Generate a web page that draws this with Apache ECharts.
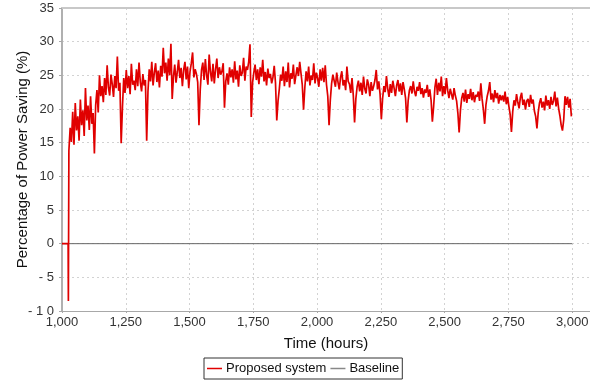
<!DOCTYPE html>
<html>
<head>
<meta charset="utf-8">
<script src="https://cdn.jsdelivr.net/npm/echarts@6/dist/echarts.min.js"></script>
<style>
  html, body { margin: 0; padding: 0; background: #fff; }
  #chart { width: 590px; height: 382px; }
</style>
</head>
<body>
<div id="chart"></div>
<script>
var FONT = "'Liberation Sans', Arial, sans-serif";
var RED = "#e00000";
var GREY = "#666666";

var X_TICKS = [1000, 1250, 1500, 1750, 2000, 2250, 2500, 2750, 3000];
var Y_TICKS = [-10, -5, 0, 5, 10, 15, 20, 25, 30, 35];
var Y_LABELS = ["- 1 0", "- 5", "0", "5", "10", "15", "20", "25", "30", "35"];

// start of the run: flat at 0, then the single dip
var HEAD_HOURS = [1000, 1024, 1025];
var HEAD_VALUES = [0, 0, -8.5];

// sampled every 5 hours from 1027 h
var SAVING_START = 1027;
var SAVING_STEP = 5;
var SAVING = [
  13.8, 17.2, 15.1, 19.6, 14.7, 20.9, 16.8, 18.9, 15.3, 21.4, 17.6, 19.8, 16.0, 23.1, 18.3, 20.5, 16.9, 21.9, 17.8, 19.4,
  13.4, 20.6, 22.8, 19.5, 25.0, 21.9, 23.4, 21.0, 24.6, 22.1, 26.5, 23.2, 22.0, 25.1, 23.7, 21.8, 24.9, 23.1, 27.8, 22.7,
  23.9, 14.9, 20.3, 24.6, 22.4, 25.8, 23.1, 24.9, 22.2, 26.7, 23.6, 24.2, 22.8, 25.9, 23.4, 26.9, 24.0, 22.6, 25.2, 23.5,
  24.3, 15.3, 22.6, 25.9, 24.1, 27.0, 23.5, 25.4, 26.8, 24.0, 25.7, 23.2, 26.4, 24.8, 29.1, 25.3, 26.9, 24.2, 27.5, 25.0,
  29.7, 21.5, 24.8, 26.6, 23.9, 25.5, 27.3, 24.6, 26.1, 23.4, 25.8, 27.0, 24.4, 26.3, 23.1, 25.6, 26.8, 28.4, 24.7, 25.9,
  25.2, 24.0, 17.6, 22.9, 25.8, 26.9, 24.3, 27.4, 25.0, 23.6, 28.1, 25.5, 24.1, 26.7, 23.8, 25.9, 27.5, 24.6, 26.2, 25.1,
  25.6, 26.8, 20.2, 24.1, 25.3, 23.6, 26.2, 24.7, 25.9, 23.9, 27.1, 24.4, 25.7, 23.3, 26.5, 24.9, 25.4, 27.6, 24.2, 26.3,
  25.8, 27.0, 29.6, 18.8, 23.9, 25.4, 26.6, 24.3, 25.9, 23.7, 26.2, 24.8, 27.3, 24.1, 25.5, 23.5, 26.0, 24.6, 25.2, 23.8,
  24.7, 26.4, 23.9, 18.3, 21.2, 23.0, 25.1, 24.2, 26.3, 23.4, 25.6, 24.0, 26.9, 23.2, 25.3, 24.5, 26.6, 23.7, 25.0, 26.2,
  24.9, 27.0, 25.3, 23.6, 19.9, 23.2, 25.6, 24.1, 26.3, 23.5, 25.0, 24.3, 26.8, 23.8, 25.4, 24.6, 23.3, 25.9, 24.2, 26.1,
  24.0, 26.5, 23.6, 21.9, 17.6, 21.4, 23.8, 25.1, 24.2, 23.3, 25.4, 24.0, 22.9, 24.7, 25.6, 23.5, 24.3, 22.8, 26.3, 24.1,
  23.7, 22.4, 24.6, 22.0, 18.0, 21.5, 23.3, 24.2, 22.6, 23.9, 22.1, 24.8, 23.0, 22.3, 24.4, 23.6, 21.9, 24.0, 22.7, 23.4,
  24.3, 25.8, 22.9, 24.1, 22.2, 18.5, 21.6, 23.4, 22.5, 24.9, 23.0, 21.8, 23.7, 22.4, 24.2, 23.1, 21.9, 23.5, 24.3, 22.6,
  23.8, 22.1, 24.0, 22.9, 21.6, 18.0, 21.2, 22.8, 23.4, 22.3, 24.1, 22.6, 21.9, 23.3, 22.7, 24.0, 22.2, 23.1, 21.7, 22.9,
  22.4, 23.6, 21.8, 22.9, 21.3, 18.1, 20.4, 23.2, 24.5, 22.1, 23.9, 22.6, 24.8, 21.9, 23.4, 22.2, 24.6, 22.8, 21.6, 23.0,
  22.9, 21.4, 23.1, 22.0, 21.2, 19.4, 16.5, 19.8, 21.6, 22.4, 21.1, 22.9, 20.9, 22.2, 21.5, 23.0, 21.3, 22.5, 21.0, 22.1,
  21.8, 22.6, 21.2, 23.8, 21.5, 19.9, 17.8, 20.6, 21.9, 22.7, 24.0, 21.4, 22.3, 21.0, 22.8, 21.6, 22.4, 20.8, 22.1, 21.3,
  22.0, 21.1, 22.6, 20.7, 21.8, 20.4, 19.2, 16.6, 19.6, 21.3, 20.5, 22.2, 21.0, 20.1, 21.7, 22.4, 20.6, 21.4, 19.9, 21.2,
  21.5, 20.3, 22.1, 20.8, 21.4, 19.7, 18.9, 17.1, 19.5, 20.9, 21.6, 20.2, 21.1, 19.8, 22.0, 20.5, 21.3, 20.0, 21.8, 20.6,
  21.2, 22.6, 20.4, 21.7, 20.1, 19.0, 17.6, 16.8, 18.4, 21.9, 20.6, 21.8, 20.2, 21.5, 18.9
];

var BASE_HOURS = [1000, 3000];
var BASE_VALUES = [0, 0];

function fmtHour(v) {
  if (X_TICKS.indexOf(v) < 0) return "";
  return Number(v).toLocaleString("en-US");
}

function fmtY(v) {
  var i = Y_TICKS.indexOf(v);
  return i < 0 ? "" : Y_LABELS[i];
}

var proposed = HEAD_HOURS.map(function(h, i) { return [h, HEAD_VALUES[i]]; });
SAVING.forEach(function(v, i) { proposed.push([SAVING_START + i * SAVING_STEP, v]); });
var baseline = BASE_HOURS.map(function(h, i) { return [h, BASE_VALUES[i]]; });

var gridLine = { show: true, lineStyle: { color: "#d2d2d2", type: [2, 3], width: 1 } };
var tickText = { color: "#333", fontSize: 13, fontFamily: FONT };

var chart = echarts.init(document.getElementById("chart"));
chart.setOption({
  animation: false,
  grid: { left: 62, right: 0, top: 8, bottom: 71, outerBoundsMode: "none", containLabel: false },
  legend: {
    data: [
      { name: "Proposed system", icon: "rect", itemStyle: { color: RED } },
      { name: "Baseline", icon: "rect", itemStyle: { color: "#888" } }
    ],
    left: 204, top: 358, itemWidth: 15, itemHeight: 1.5, itemGap: 4,
    padding: [4, 3, 4, 3], borderColor: "#333", borderWidth: 1, borderRadius: 0,
    textStyle: { color: "#111", fontSize: 13, fontFamily: FONT, padding: [0, 0, 0, -1] }
  },
  xAxis: [{
    type: "value", min: 1000, max: 3070, interval: 250,
    name: "Time (hours)", nameLocation: "middle", nameGap: 25, nameMoveOverlap: false,
    nameTextStyle: { color: "#111", fontSize: 15, fontFamily: FONT },
    axisLine: { show: true, onZero: false, lineStyle: { color: "#a8a8a8", width: 1 } },
    axisTick: { show: true, length: 2, lineStyle: { color: "#a8a8a8" } },
    axisLabel: Object.assign({ formatter: fmtHour, margin: 5, showMaxLabel: false }, tickText),
    splitLine: gridLine
  }, {
    type: "value", min: 1000, max: 3070, position: "top",
    axisLine: { show: true, onZero: false, lineStyle: { color: "#c8c8c8", width: 2 } },
    axisTick: { show: false }, axisLabel: { show: false }, splitLine: { show: false }
  }],
  yAxis: {
    type: "value", min: -10, max: 35, interval: 5,
    name: "Percentage of Power Saving (%)", nameLocation: "middle", nameGap: 32, nameMoveOverlap: false,
    nameTextStyle: { color: "#111", fontSize: 15, fontFamily: FONT },
    axisLine: { show: true, onZero: false, lineStyle: { color: "#b0b0b0", width: 2 } },
    axisTick: { show: true, length: 3, lineStyle: { color: "#a8a8a8" } },
    axisLabel: Object.assign({ formatter: fmtY, margin: 8 }, tickText),
    splitLine: gridLine
  },
  series: [
    { name: "Baseline", type: "line", data: baseline, symbol: "none", z: 2,
      lineStyle: { color: GREY, width: 1 }, itemStyle: { color: "#888" } },
    { name: "Proposed system", type: "line", data: proposed, symbol: "none", z: 3,
      lineStyle: { color: RED, width: 1.7 }, itemStyle: { color: RED } }
  ]
});
</script>
</body>
</html>
